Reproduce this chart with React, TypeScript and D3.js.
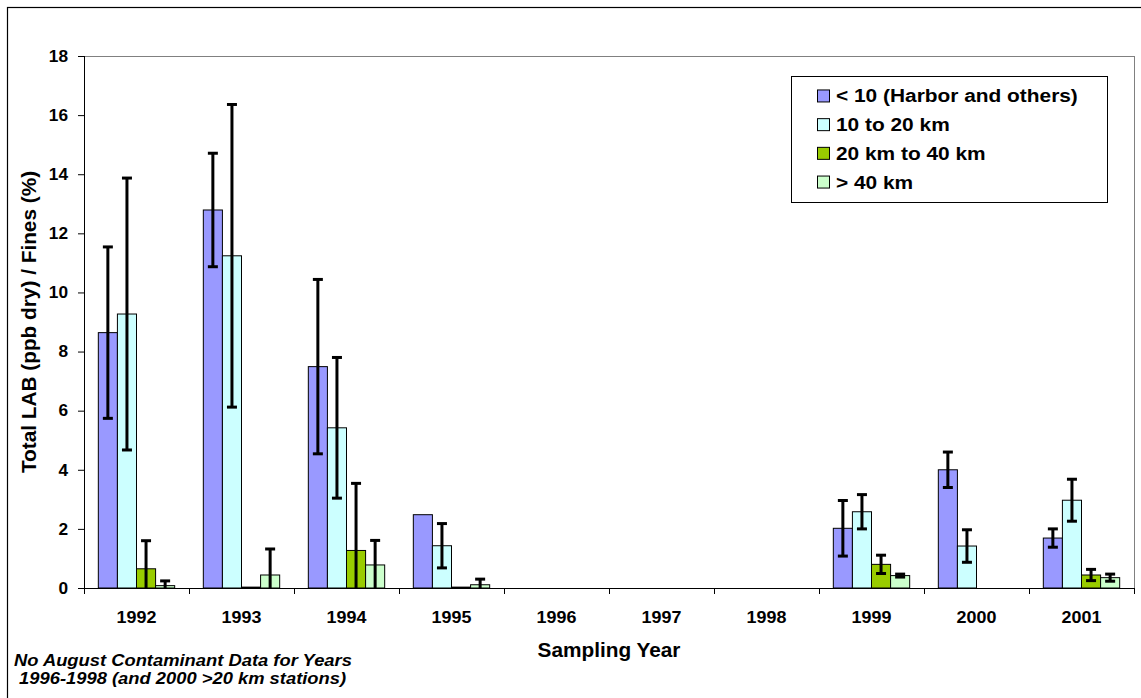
import React from "react";
import * as d3 from "d3";

const years = ["1992", "1993", "1994", "1995", "1996", "1997", "1998", "1999", "2000", "2001"];
const seriesNames = ["< 10 (Harbor and others)", "10 to 20 km", "20 km to 40 km", "> 40 km"];
const seriesColors = ["#9999FF", "#CCFFFF", "#99CC00", "#CCFFCC"];

const lt10 = [8.64, 12.79, 7.49, 2.48, null, null, null, 2.02, 4.0, 1.69];
const lt10Err = [2.9, 1.92, 2.95, null, null, null, null, 0.94, 0.6, 0.31];
const km10to20 = [9.27, 11.24, 5.42, 1.43, null, null, null, 2.58, 1.42, 2.97];
const km10to20Err = [4.6, 5.12, 2.38, 0.75, null, null, null, 0.58, 0.55, 0.71];
const km20to40 = [0.65, 0.03, 1.27, 0.03, null, null, null, 0.8, null, 0.44];
const km20to40Err = [0.95, null, 2.27, null, null, null, null, 0.31, null, 0.19];
const gt40 = [0.08, 0.44, 0.78, 0.11, null, null, null, 0.42, null, 0.35];
const gt40Err = [0.16, 0.88, 0.83, 0.19, null, null, null, 0.05, null, 0.12];

const yTicks = [0, 2, 4, 6, 8, 10, 12, 14, 16, 18];

const seriesValues = [lt10, km10to20, km20to40, gt40];
const seriesErrors = [lt10Err, km10to20Err, km20to40Err, gt40Err];

const FONT = "'Liberation Sans', Arial, Helvetica, sans-serif";

const W = 1141;
const H = 698;
const plot = { left: 84, right: 1134, top: 56, bottom: 588 };

export default function App() {
  const x0 = d3.scaleBand<string>().domain(years).range([plot.left, plot.right]).paddingInner(0).paddingOuter(0);
  const x1 = d3
    .scaleBand<string>()
    .domain(seriesNames)
    .range([0, x0.bandwidth()])
    .paddingInner(0)
    .paddingOuter(0.75);
  const y = d3.scaleLinear().domain([0, 18]).range([plot.bottom, plot.top]);

  const bars: React.ReactNode[] = [];
  const errs: React.ReactNode[] = [];
  seriesNames.forEach((s, si) => {
    years.forEach((yr, yi) => {
      const v = seriesValues[si][yi];
      if (v === null || v === undefined) return;
      const bx = (x0(yr) as number) + (x1(s) as number);
      const bw = x1.bandwidth();
      bars.push(
        <rect
          key={`b-${si}-${yi}`}
          x={bx}
          y={y(v)}
          width={bw}
          height={y(0) - y(v)}
          fill={seriesColors[si]}
          stroke="#000"
          strokeWidth={1}
        />
      );
      const e = seriesErrors[si][yi];
      if (e !== null && e !== undefined) {
        const cx = bx + bw / 2;
        const hi = v + e;
        const lo = v - e;
        errs.push(
          <g key={`e-${si}-${yi}`} stroke="#000" strokeWidth={3}>
            <line x1={cx} x2={cx} y1={y(hi)} y2={y(Math.max(lo, -1))} />
            <line x1={cx - 5} x2={cx + 5} y1={y(hi)} y2={y(hi)} />
            {lo >= 0 && <line x1={cx - 5} x2={cx + 5} y1={y(lo)} y2={y(lo)} />}
          </g>
        );
      }
    });
  });

  const legendBox = { x: 791, y: 76, w: 316, h: 126 };
  const rowStep = 28.7;
  const rowMid = legendBox.y + legendBox.h / 2;

  const boundaries = [...years.map((yr) => x0(yr) as number), plot.right];

  return (
    <svg
      width={W}
      height={H}
      style={{ position: "absolute", left: 0, top: 0, background: "#fff" }}
      fontFamily={FONT}
    >
      <defs>
        <clipPath id="plotClip">
          <rect x={plot.left} y={plot.top - 20} width={plot.right - plot.left} height={plot.bottom - plot.top + 20} />
        </clipPath>
      </defs>
      <rect x={0} y={0} width={W} height={H} fill="#fff" />
      {/* outer chart border (extends beyond the image on the right and bottom) */}
      <rect x={7.5} y={7.5} width={W + 10} height={H + 10} fill="none" stroke="#000" strokeWidth={1.2} />

      {/* plot area frame */}
      <line x1={plot.left} x2={plot.right} y1={plot.top + 0.5} y2={plot.top + 0.5} stroke="#808080" strokeWidth={1} />
      <line x1={plot.right + 0.5} x2={plot.right + 0.5} y1={plot.top} y2={plot.bottom} stroke="#808080" strokeWidth={1} />

      {/* bars and error bars */}
      <g clipPath="url(#plotClip)">
        {bars}
        {errs}
      </g>

      {/* y axis */}
      <line x1={plot.left + 0.5} x2={plot.left + 0.5} y1={plot.top} y2={plot.bottom} stroke="#000" strokeWidth={1} />
      {yTicks.map((t) => (
        <g key={`yt-${t}`}>
          <line x1={plot.left - 6} x2={plot.left} y1={y(t) + 0.5} y2={y(t) + 0.5} stroke="#000" strokeWidth={1} />
          <text
            transform={`translate(${plot.left - 16},${y(t) + 5.8}) scale(1.08,1)`}
            textAnchor="end"
            fontSize={16}
            fontWeight="bold"
          >
            {t}
          </text>
        </g>
      ))}

      {/* x axis */}
      <line x1={plot.left} x2={plot.right} y1={plot.bottom + 0.5} y2={plot.bottom + 0.5} stroke="#000" strokeWidth={1} />
      {boundaries.map((bx, i) => (
        <line key={`xt-${i}`} x1={bx + 0.5} x2={bx + 0.5} y1={plot.bottom} y2={plot.bottom + 6} stroke="#000" strokeWidth={1} />
      ))}
      {years.map((yr) => (
        <text
          key={`xl-${yr}`}
          transform={`translate(${(x0(yr) as number) + x0.bandwidth() / 2},623) scale(1.12,1)`}
          textAnchor="middle"
          fontSize={16}
          fontWeight="bold"
        >
          {yr}
        </text>
      ))}

      {/* axis titles */}
      <text
        transform={`translate(${(plot.left + plot.right) / 2},657) scale(1.04,1)`}
        textAnchor="middle"
        fontSize={20}
        fontWeight="bold"
      >
        Sampling Year
      </text>
      <text
        transform={`translate(36,${(plot.top + plot.bottom) / 2}) rotate(-90) scale(1.04,1)`}
        textAnchor="middle"
        fontSize={20}
        fontWeight="bold"
      >
        Total LAB (ppb dry) / Fines (%)
      </text>

      {/* footnote */}
      <text transform="translate(14,666) scale(1.08,1)" fontSize={17} fontWeight="bold" fontStyle="italic">
        No August Contaminant Data for Years
      </text>
      <text transform="translate(14,684) scale(1.08,1)" fontSize={17} fontWeight="bold" fontStyle="italic" xmlSpace="preserve">
        {"\u00A01996-1998 (and 2000 >20 km stations)"}
      </text>

      {/* legend */}
      <rect
        x={legendBox.x + 0.5}
        y={legendBox.y + 0.5}
        width={legendBox.w}
        height={legendBox.h}
        fill="#fff"
        stroke="#000"
        strokeWidth={1}
      />
      {seriesNames.map((s, i) => {
        const cy = rowMid + (i - 1.5) * rowStep;
        return (
          <g key={`lg-${i}`}>
            <rect x={817.5} y={cy - 6} width={12} height={12} fill={seriesColors[i]} stroke="#000" strokeWidth={1} />
            <text
              transform={`translate(836,${cy + 6.5}) scale(1.16,1)`}
              fontSize={18}
              fontWeight="bold"
            >
              {s}
            </text>
          </g>
        );
      })}
    </svg>
  );
}
